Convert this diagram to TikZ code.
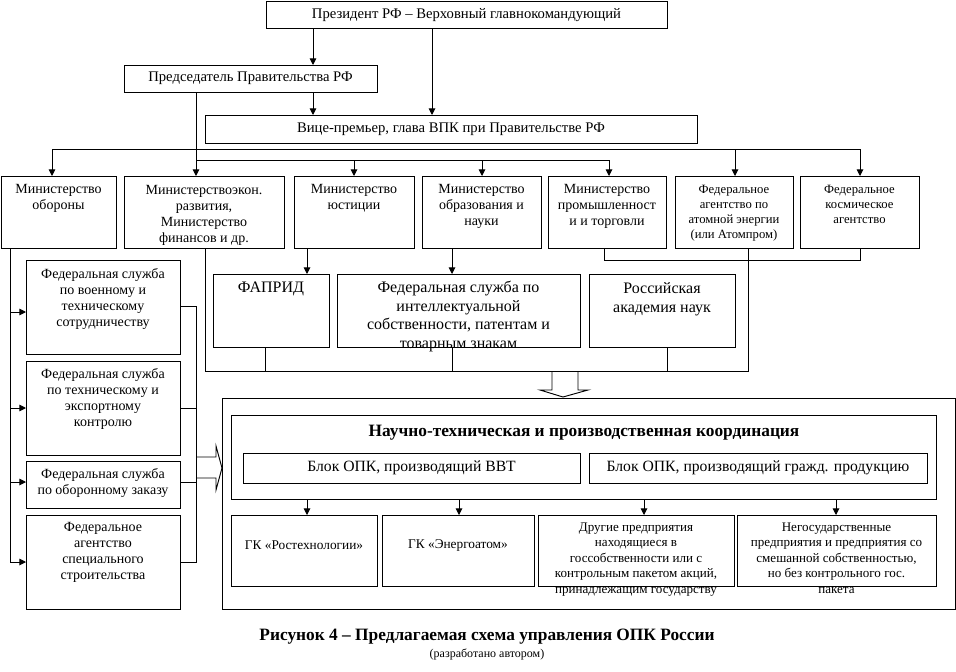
\documentclass[tikz,border=0pt]{standalone}
\usepackage{fontspec}
\setmainfont{Liberation Serif}
\usetikzlibrary{arrows.meta,calc}
\tikzset{
  bx/.style={draw, rectangle, inner sep=0pt, outer sep=0pt, anchor=north west, line width=0.7pt},
  ln/.style={line width=0.7pt},
  arr/.style={line width=0.7pt, -{Triangle[length=5pt,width=5pt]}},
  fa/.style={inner sep=0pt, align=center, anchor=north, font=\fontsize{10.5}{12}\selectfont},
  fb/.style={inner sep=0pt, align=center, anchor=north, font=\fontsize{9.5}{11.2}\selectfont},
  fbb/.style={inner sep=0pt, align=center, anchor=north, font=\fontsize{9.8}{11.6}\selectfont},
  fc/.style={inner sep=0pt, align=center, anchor=north, font=\fontsize{12}{14}\selectfont},
  one/.style={inner sep=0pt, anchor=center, font=\fontsize{11}{13}\selectfont},
  blk/.style={inner sep=0pt, anchor=center, font=\fontsize{11.75}{14}\selectfont},
  gk/.style={inner sep=0pt, anchor=center, font=\fontsize{10}{12}\selectfont},
  ttl/.style={inner sep=0pt, anchor=center, font=\fontsize{13}{15}\bfseries\selectfont},
}
\newcommand\bx[5]{\node[bx, minimum width={(#4-#2)*0.75pt}, minimum height={(#5-#3)*0.75pt}] (#1) at (#2,#3) {};}
\begin{document}
\begin{tikzpicture}[x=0.75pt,y=-0.75pt]
\useasboundingbox (0,0) rectangle (956,671);
% boxes
\bx{pres}{266}{1}{667}{28}
\bx{chair}{124}{65}{377}{92}
\bx{vice}{205}{115}{697}{143}
\bx{obor}{1}{176}{116}{248}
\bx{econ}{124}{176}{284}{248}
\bx{just}{294}{176}{414}{248}
\bx{edu}{422}{176}{541}{248}
\bx{prom}{548}{176}{666}{248}
\bx{atom}{675}{176}{793}{248}
\bx{space}{800}{176}{919}{248}
\bx{fs1}{26}{260}{180}{354}
\bx{fs2}{26}{361}{180}{455}
\bx{fs3}{26}{461}{180}{508}
\bx{fs4}{26}{515}{180}{609}
\bx{fap}{213}{274}{329}{347}
\bx{fsip}{337}{274}{580}{347}
\bx{ran}{589}{274}{735}{347}
\bx{outer}{222}{398}{955}{609}
\bx{coord}{231}{415}{936}{499}
\bx{bvvt}{243}{453}{580}{483}
\bx{bciv}{589}{453}{927}{483}
\bx{gk1}{231}{515}{377}{586}
\bx{gk2}{382}{515}{534}{586}
\bx{oth}{538}{515}{734}{586}
\bx{ngs}{737}{515}{936}{586}
% texts
\node[one] (tpres) at ($(pres.center)+(0,0.5)$) {Президент РФ – Верховный главнокомандующий};
\node[one] (tchair) at (chair.center) {Председатель Правительства РФ};
\node[one] (tvice) at (vice.center) {Вице-премьер, глава ВПК при Правительстве РФ};
\node[fa] (tobor) at ($(obor.north)+(0,6.3)$) {\strut Министерство\\обороны};
\node[fa] (tecon) at ($(econ.north)+(0,7)$) {\strut Министерствоэкон.\\развития,\\Министерство\\финансов и др.};
\node[fa] (tjust) at ($(just.north)+(0,6.3)$) {\strut Министерство\\юстиции};
\node[fa] (tedu) at ($(edu.north)+(0,6.3)$) {\strut Министерство\\образования и\\науки};
\node[fa] (tprom) at ($(prom.north)+(0,6.3)$) {\strut Министерство\\промышленност\\и и торговли};
\node[fb] (tatom) at ($(atom.north)+(0,6.75)$) {\strut Федеральное\\агентство по\\атомной энергии\\(или Атомпром)};
\node[fb] (tspace) at ($(space.north)+(0,6.75)$) {\strut Федеральное\\космическое\\агентство};
\node[fa] (tfs1) at ($(fs1.north)+(0,7.3)$) {\strut Федеральная служба\\по военному и\\техническому\\сотрудничеству};
\node[fa] (tfs2) at ($(fs2.north)+(0,6.3)$) {\strut Федеральная служба\\по техническому и\\экспортному\\контролю};
\node[fa] (tfs3) at ($(fs3.north)+(0,6.3)$) {\strut Федеральная служба\\по оборонному заказу};
\node[fa] (tfs4) at ($(fs4.north)+(0,5.3)$) {\strut Федеральное\\агентство\\специального\\строительства};
\node[fc] (tfap) at ($(fap.north)+(0,5)$) {\strut ФАПРИД};
\node[fc] (tfsip) at ($(fsip.north)+(0,5)$) {\strut Федеральная служба по\\интеллектуальной\\собственности, патентам и\\товарным знакам};
\node[fc] (tran) at ($(ran.north)+(0,6)$) {\strut Российская\\академия наук};
\node[ttl] (ttitle) at (584,433) {Научно-техническая и производственная координация};
\node[blk] (tbvvt) at (bvvt.center) {Блок ОПК, производящий ВВТ};
\node[blk] (tbciv) at (bciv.center) {Блок ОПК, производящий гражд. продукцию};
\node[gk] (tgk1) at (304,545) {ГК «Ростехнологии»};
\node[gk] (tgk2) at (458,545) {ГК «Энергоатом»};
\node[fbb] (toth) at ($(oth.north)+(0,5.2)$) {\strut Другие предприятия\\находящиеся в\\госсобственности или с\\контрольным пакетом акций,\\принадлежащим государству};
\node[fbb] (tngs) at ($(ngs.north)+(0,5.2)$) {\strut Негосударственные\\предприятия и предприятия со\\смешанной собственностью,\\но без контрольного гос.\\пакета};
\node[ttl] (cap) at (487,637) {Рисунок 4 – Предлагаемая схема управления ОПК России};
\node[inner sep=0pt, font=\fontsize{9}{10}\selectfont] (sub) at (487,654) {(разработано автором)};
% column / row coordinates
\foreach \x in {10,52,196,205,265,307,313,354,432,452,459,482,604,609,644,667,735,748,836,860}
  \coordinate (c\x) at (\x,0);
\foreach \y in {149,160,260,306,312,371,482}
  \coordinate (r\y) at (0,\y);
% top connectors
\draw[arr] (pres.south -| c313) -- (chair.north -| c313);
\draw[arr] (pres.south -| c432) -- (vice.north -| c432);
\draw[arr] (chair.south -| c313) -- (vice.north -| c313);
\draw[arr] (chair.south -| c196) -- (econ.north -| c196);
\draw[ln] (c52 |- r149) -- (c860 |- r149);
\draw[arr] (c52 |- r149) -- (obor.north -| c52);
\draw[arr] (c735 |- r149) -- (atom.north -| c735);
\draw[arr] (c860 |- r149) -- (space.north -| c860);
\draw[ln] (c196 |- r160) -- (c609 |- r160);
\draw[arr] (c354 |- r160) -- (just.north -| c354);
\draw[arr] (c482 |- r160) -- (edu.north -| c482);
\draw[arr] (c609 |- r160) -- (prom.north -| c609);
% left services
\draw[ln] (obor.south -| c10) -- (c10 |- fs4.west);
\draw[arr] (c10 |- r312) -- (fs1.west |- r312);
\draw[arr] (c10 |- fs2.west) -- (fs2.west);
\draw[arr] (c10 |- r482) -- (fs3.west |- r482);
\draw[arr] (c10 |- fs4.west) -- (fs4.west);
\draw[ln] (fs1.east |- r306) -- (c196 |- r306) -- (c196 |- fs4.east) -- (fs4.east);
\draw[ln] (fs2.east) -- (fs2.east -| c196);
\draw[ln] (fs3.east |- r482) -- (c196 |- r482);
% middle
\draw[arr] (just.south -| c307) -- (fap.north -| c307);
\draw[arr] (edu.south -| c452) -- (fsip.north -| c452);
\draw[ln] (econ.south -| c205) -- (c205 |- r371) -- (c748 |- r371) -- (atom.south -| c748);
\draw[ln] (prom.south -| c604) -- (c604 |- r260) -- (c860 |- r260) -- (space.south -| c860);
\draw[ln] (fap.south -| c265) -- (c265 |- r371);
\draw[ln] (fsip.south -| c452) -- (c452 |- r371);
\draw[ln] (ran.south -| c667) -- (c667 |- r371);
% hollow arrows
\draw[ln] (552,371) -- (552,390) -- (540,390) -- (563,397) -- (588,390) -- (578,390) -- (578,371);
\draw[ln] (196,457) -- (216,457) -- (216,446) -- (222,468) -- (216,490) -- (216,478) -- (196,478);
% bottom arrows
\draw[arr] (coord.south -| c307) -- (gk1.north -| c307);
\draw[arr] (coord.south -| c459) -- (gk2.north -| c459);
\draw[arr] (coord.south -| c644) -- (oth.north -| c644);
\draw[arr] (coord.south -| c836) -- (ngs.north -| c836);
\end{tikzpicture}
\end{document}
